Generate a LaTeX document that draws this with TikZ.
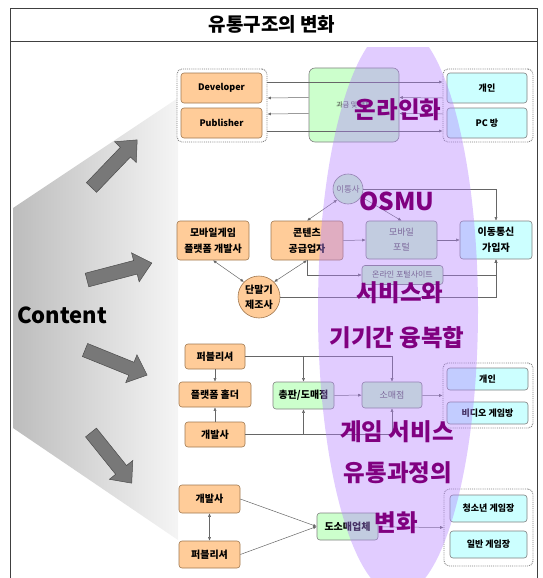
\documentclass[tikz,border=0pt]{standalone}
\usepackage{fontspec}
\setmainfont{Noto Sans CJK KR}
\usetikzlibrary{arrows.meta,calc}
\definecolor{orf}{HTML}{FFCC99}
\definecolor{ord}{HTML}{A07850}
\definecolor{cyf}{HTML}{CCFFFF}
\definecolor{grf}{HTML}{CCFFCC}
\definecolor{bxd}{HTML}{808080}
\definecolor{ellc}{HTML}{B380FF}
\definecolor{ptxt}{HTML}{800080}
\definecolor{arrg}{HTML}{787878}
\begin{document}
\begin{tikzpicture}[x=1pt,y=-1pt,
 bx/.style={rectangle, rounded corners=3pt, inner sep=0pt, align=center, font=\bfseries\fontsize{10}{16}\selectfont, line width=0.6pt},
 orbox/.style={bx, draw=ord, fill=orf},
 cybox/.style={bx, draw=bxd, fill=cyf},
 grbox/.style={bx, draw=bxd, fill=grf},
 gybox/.style={bx, draw=bxd, fill=grf, font=\fontsize{9}{15}\selectfont, text=black!65},
 grp/.style={draw=black!50, densely dotted, rounded corners=5pt, line width=0.9pt, fill=white, inner sep=0pt},
 con/.style={draw=black!60, line width=0.5pt, -{Latex[length=3.5pt,width=3pt]}},
 bicon/.style={draw=black!60, line width=0.5pt, {Latex[length=3.5pt,width=3pt]}-{Latex[length=3.5pt,width=3pt]}},
 ptext/.style={text=ptxt, font=\bfseries\fontsize{23.5}{26}\selectfont, inner sep=0pt},
 bigarrow/.style={fill=arrg, draw=black!70, line width=0.5pt},
]
\useasboundingbox (0,0) rectangle (542,578);
% frame and title
\draw[black!75, line width=0.8pt] (10,8) rectangle (537,41);
\draw[black!75, line width=0.8pt] (10,41) -- (10,578) (537,41) -- (537,578);
\node[font=\bfseries\fontsize{19}{22}\selectfont] (title) at (272,24.5) {유통구조의 변화};

% gray trapezoid
\shade[left color=black!26, right color=black!4] (13,208) -- (178,98) -- (178,540) -- (13,428) -- cycle;
\node[font=\bfseries\fontsize{22}{24}\selectfont, inner sep=0pt] (content) at (62,315) {Content};
\foreach \px/\py/\ang/\len in {91.5/187.5/46.2/66, 87/280/14.7/67, 85/350/-22/67, 91/432.5/-51.2/65}{
 \begin{scope}[shift={(\px,\py)}, rotate=\ang]
 \filldraw[bigarrow] (0,-7) -- (\len-17,-7) -- (\len-17,-15) -- (\len,0) -- (\len-17,15) -- (\len-17,7) -- (0,7) -- cycle;
 \end{scope}}

% ---------- section 1
\node[grp, minimum width=90pt, minimum height=73pt] (g1L) at (222,105.5) {};
\node[grp, minimum width=90pt, minimum height=73pt] (g1R) at (488,105.5) {};
\node[orbox, font=\bfseries\fontsize{9}{12}\selectfont, minimum width=81pt, minimum height=30pt] (devl) at (221.5,88) {Developer};
\node[orbox, font=\bfseries\fontsize{9}{12}\selectfont, minimum width=81pt, minimum height=30pt] (publ) at (221.5,123) {Publisher};
\node[cybox, font=\bfseries\fontsize{9}{12}\selectfont, minimum width=80pt, minimum height=30pt] (ind1) at (487,88) {개인};
\node[cybox, font=\bfseries\fontsize{9}{12}\selectfont, minimum width=80pt, minimum height=30pt] (pcb) at (487,123) {PC 방};
\node[grbox, font=\fontsize{7}{9}\selectfont, text=black!75, minimum width=90pt, minimum height=74pt, rounded corners=6pt] (bill) at (354,105) {과금 및 결제};
\draw[con] ([yshift=23.5pt]g1L.east) -- ([yshift=23.5pt]g1R.west);
\draw[con] ([yshift=-25.5pt]g1L.east) -- ([yshift=-25.5pt]g1R.west);
\draw[con] ([yshift=7.5pt]bill.west) -- ([yshift=7.5pt]g1L.east);
\draw[con] ([yshift=-8.5pt]bill.west) -- ([yshift=-8.5pt]g1L.east);
\draw[con] ([yshift=7.5pt]g1R.west) -- ([yshift=7.5pt]bill.east);
\draw[con] ([yshift=-8.5pt]g1R.west) -- ([yshift=-8.5pt]bill.east);

% ---------- section 2
\node[orbox, minimum width=72pt, minimum height=39pt] (mgp) at (213,240.5) {모바일게임\\플랫폼 개발사};
\node[orbox, minimum width=72pt, minimum height=39pt] (cp) at (307,240.5) {콘텐츠\\공급업자};
\node[circle, draw=bxd, fill=grf, line width=0.6pt, minimum size=30pt, inner sep=0pt, font=\fontsize{8.5}{10}\selectfont, text=black!60] (tel) at (348,189) {이통사};
\node[gybox, minimum width=71pt, minimum height=38pt] (mp) at (401.5,240) {모바일\\포털};
\node[cybox, minimum width=72pt, minimum height=38pt] (sub) at (496,240) {이동통신\\가입자};
\node[gybox, font=\fontsize{8}{10}\selectfont, minimum width=81pt, minimum height=19pt] (ops) at (402.5,275) {온라인 포털사이트};
\node[circle, draw=ord, fill=orf, line width=0.6pt, minimum size=42pt, inner sep=0pt, align=center, font=\bfseries\fontsize{10}{15}\selectfont] (term) at (259,297) {단말기\\제조사};
\draw[bicon] (mgp.south) -- (term.north west);
\draw[bicon] (cp.south) -- (term.north east);
\draw[bicon] (cp.north) -- (tel.south west);
\draw[con] (tel) -- (mp.north);
\draw[con] (tel.east) -| (sub.north);
\draw[con] (cp.east) -- (mp.west);
\draw[con] (mp.east) -- (sub.west);
\draw[con] (cp.south) |- (ops.west);
\draw[con] (ops.east) -| (sub.south);
\draw[con] (term.east) -| (sub.south);

% ---------- section 3
\node[orbox, minimum width=60pt, minimum height=25pt] (pub3) at (215,356.5) {퍼블리셔};
\node[orbox, minimum width=72pt, minimum height=25pt] (ph) at (215,394.5) {플랫폼 홀더};
\node[orbox, minimum width=60pt, minimum height=25pt] (dv3) at (215,434.5) {개발사};
\node[grbox, minimum width=61pt, minimum height=27pt] (dist) at (303.5,395.5) {총판/도매점};
\node[gybox, minimum width=60pt, minimum height=26pt] (ret) at (392,395) {소매점};
\node[grp, minimum width=90pt, minimum height=65pt] (g3) at (488,395.5) {};
\node[cybox, font=\bfseries\fontsize{9}{12}\selectfont, minimum width=81pt, minimum height=22pt] (ind3) at (487.5,379) {개인};
\node[cybox, font=\bfseries\fontsize{9}{12}\selectfont, minimum width=81pt, minimum height=22pt] (vg) at (487.5,413) {비디오 게임방};
\draw[con] (pub3) -- (ph);
\draw[con] (dv3) -- (ph);
\draw[con] (pub3.east) -| (dist.north);
\draw[con] (pub3.east) -| (ret.north);
\draw[con] (dv3.east) -| (dist.south);
\draw[con] (dv3.east) -| (ret.south);
\draw[con] (dist) -- (ret);
\draw[con] (ret) -- (g3.west);

% ---------- section 4
\node[orbox, minimum width=61pt, minimum height=28pt] (dv4) at (209.5,499) {개발사};
\node[orbox, minimum width=61pt, minimum height=27pt] (pb4) at (209.5,554.5) {퍼블리셔};
\node[grbox, minimum width=61pt, minimum height=27pt] (ws) at (347.5,526.5) {도소매업체};
\node[grp, minimum width=89pt, minimum height=77pt] (g4) at (488.5,527.5) {};
\node[cybox, font=\bfseries\fontsize{9}{12}\selectfont, minimum width=77pt, minimum height=27pt] (yg) at (488.5,508.5) {청소년 게임장};
\node[cybox, font=\bfseries\fontsize{9}{12}\selectfont, minimum width=77pt, minimum height=27pt] (gg) at (488.5,544.5) {일반 게임장};
\draw[bicon] (dv4) -- (pb4);
\draw[con] (dv4.east) -- (ws.west);
\draw[con] (pb4.east) -- (ws.west);
\draw[con] (ws) -- (g4.west);

% ---------- purple ellipse
\begin{scope}
\clip (0,48) rectangle (542,578);
\fill[ellc, opacity=0.4] (398,310) ellipse [x radius=80pt, y radius=285pt];
\end{scope}
\node[ptext] (p1) at (398,110) {온라인화};
\node[ptext, font=\bfseries\fontsize{24.5}{26}\selectfont] (p2) at (397,201) {OSMU};
\node[ptext] (p3) at (400,293) {서비스와};
\node[ptext] (p4) at (397,338) {기기간 융복합};
\node[ptext] (p5) at (397,432) {게임 서비스};
\node[ptext] (p6) at (398,473) {유통과정의};
\node[ptext] (p7) at (396,523) {변화};
\end{tikzpicture}
\end{document}
